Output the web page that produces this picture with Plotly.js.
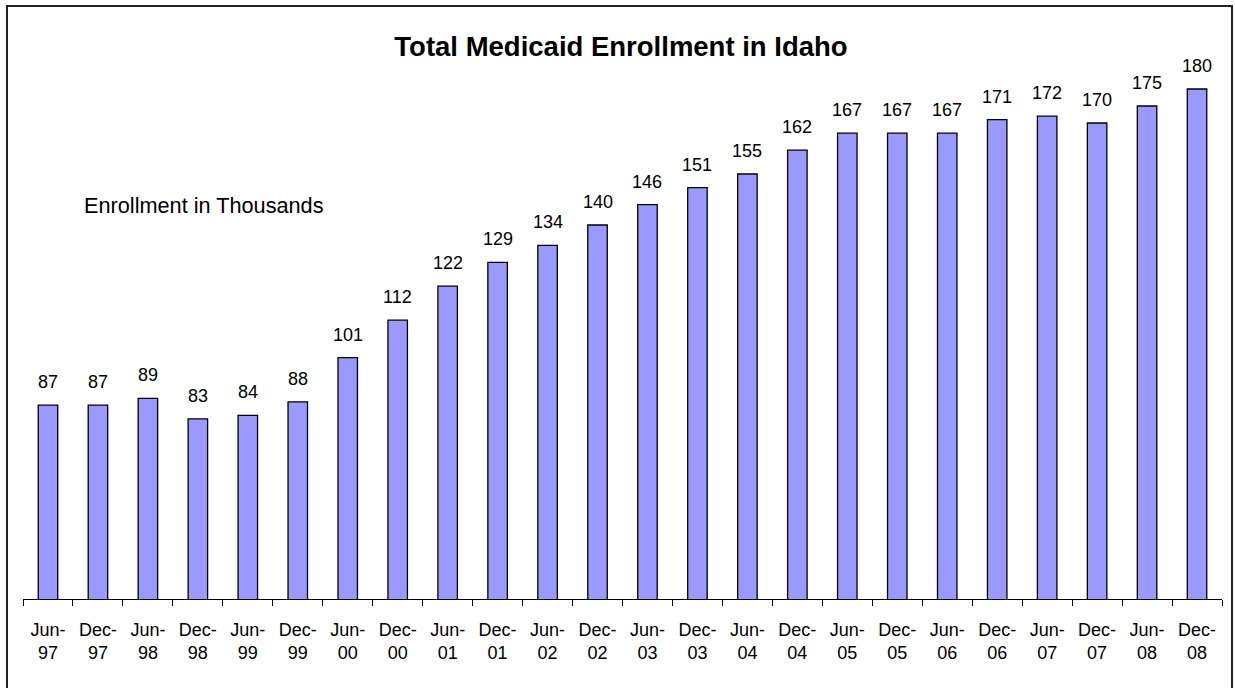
<!DOCTYPE html>
<html>
<head>
<meta charset="utf-8">
<script src="https://cdn.plot.ly/plotly-3.0.1.min.js"></script>
<style>
html,body{margin:0;padding:0;background:#fff;}
#chart{width:1235px;height:688px;}
</style>
</head>
<body>
<div id="chart"></div>
<script>
const categories = ["Jun-97","Dec-97","Jun-98","Dec-98","Jun-99","Dec-99","Jun-00","Dec-00","Jun-01","Dec-01","Jun-02","Dec-02","Jun-03","Dec-03","Jun-04","Dec-04","Jun-05","Dec-05","Jun-06","Dec-06","Jun-07","Dec-07","Jun-08","Dec-08"];
const enrollment = [87,87,89,83,84,88,101,112,122,129,134,140,146,151,155,162,167,167,167,171,172,170,175,180];
const tickLabels = categories.map(c => c.replace("-", "-<br>"));

const FONT = "Liberation Sans, Arial, sans-serif";
const W = 1235, H = 688;
const m = {l:23, r:13, t:21, b:89};
const pw = W - m.l - m.r, ph = H - m.t - m.b;
const px = x => (x - m.l) / pw;
const py = y => (H - m.b - y) / ph;

const trace = {
  type: "bar",
  x: categories,
  y: enrollment,
  marker: {color: "#9999FF", line: {color: "#000", width: 1.3}},
  hoverinfo: "none"
};

const valueLabels = categories.map((c, i) => ({
  text: String(enrollment[i]),
  xref: "x", yref: "y",
  x: c, y: enrollment[i],
  xanchor: "center", yanchor: "bottom",
  yshift: 11,
  showarrow: false,
  font: {family: FONT, size: 18, color: "#000"}
}));

const layout = {
  width: W, height: H,
  margin: m,
  paper_bgcolor: "#fff",
  plot_bgcolor: "#fff",
  bargap: 0.61,
  showlegend: false,
  font: {family: FONT, size: 18, color: "#000"},
  title: {
    text: "<b>Total Medicaid Enrollment in Idaho</b>",
    font: {family: FONT, size: 27.5, color: "#000"},
    x: px(621), xref: "paper", xanchor: "center",
    y: 1 - 46/H, yanchor: "middle"
  },
  xaxis: {
    type: "category",
    tickmode: "array",
    tickvals: categories,
    ticktext: tickLabels,
    tickson: "boundaries",
    ticks: "outside",
    ticklen: 6,
    tickcolor: "#000",
    tickwidth: 1,
    showline: true,
    linecolor: "#000",
    linewidth: 1,
    showgrid: false,
    zeroline: false,
    ticklabelstandoff: 14,
    tickfont: {family: FONT, size: 18, color: "#000"}
  },
  yaxis: {
    range: [30, 200],
    visible: false,
    showgrid: false,
    zeroline: false,
    fixedrange: true
  },
  annotations: valueLabels.concat([{
    text: "Enrollment in Thousands",
    xref: "paper", yref: "paper",
    x: px(82), xanchor: "left",
    y: py(205), yanchor: "middle",
    showarrow: false,
    font: {family: FONT, size: 21.7, color: "#000"}
  }]),
  shapes: [{
    type: "rect",
    xref: "paper", yref: "paper",
    x0: px(7), x1: px(1232),
    y0: py(695), y1: py(6),
    line: {color: "#222", width: 2},
    fillcolor: "rgba(0,0,0,0)",
    layer: "above"
  }]
};

Plotly.newPlot("chart", [trace], layout, {staticPlot: true, displayModeBar: false});
</script>
</body>
</html>
